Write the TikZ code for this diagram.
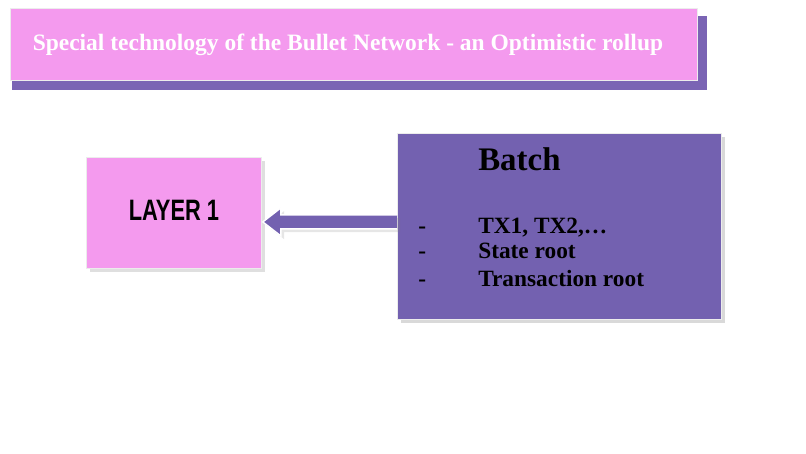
\documentclass[tikz,border=0pt]{standalone}
\usepackage{fontspec}
\setmainfont{Liberation Serif}
\newfontfamily\condsans[FakeStretch=0.74]{Liberation Sans}
\usetikzlibrary{positioning,calc}
\definecolor{pinkbox}{HTML}{F49AEE}
\definecolor{violetbox}{HTML}{7361B0}
\definecolor{shadowbox}{HTML}{7A64B4}
\tikzset{
  box/.style={draw=white!85!gray, line width=0.6pt, inner sep=0pt, anchor=north west},
  blockarrow/.style={fill=violetbox, draw=white, line width=1pt, drop shadow={opacity=0.2}}
}
\usetikzlibrary{shadows}
\begin{document}
\begin{tikzpicture}[x=0.025cm,y=-0.025cm]
        \useasboundingbox (0,0) rectangle (806,453);

        % title bar with its shadow
        \fill[shadowbox] (12,16) rectangle (707,90);
        \node[box, fill=pinkbox, minimum width=687*0.025cm, minimum height=72*0.025cm] (title) at (10,8) {};
        \node[text=white, font=\bfseries\fontsize{16.7}{18}\selectfont] at ($(title.center)+(-6,0)$) {Special technology of the Bullet Network - an Optimistic rollup};

        % boxes
        \node[box, fill=pinkbox, minimum width=175*0.025cm, minimum height=111*0.025cm, drop shadow={opacity=0.25}] (layer) at (86,157) {};
        \node[font=\condsans\bfseries\fontsize{21}{23}\selectfont] at ($(layer.center)+(0,-3)$) {LAYER 1};

        \node[box, fill=violetbox, minimum width=324*0.025cm, minimum height=186*0.025cm, drop shadow={opacity=0.3}] (batch) at (397,133) {};
        \node[font=\bfseries\fontsize{23.4}{25}\selectfont, anchor=base west, inner sep=0pt] at (478,170) {Batch};
        \foreach \y/\txt in {233/{TX1, TX2,\dots}, 258/{State root}, 286/{Transaction root}} {
            \node[font=\bfseries\fontsize{16.6}{18}\selectfont, anchor=base west, inner sep=0pt] at (418,\y) {-};
            \node[font=\bfseries\fontsize{16.6}{18}\selectfont, anchor=base west, inner sep=0pt] at (478,\y) {\txt};
        }

        % arrow from batch to layer 1
        \coordinate (tip) at ($(layer.east)+(1,9)$);
        \coordinate (tail) at (batch.west |- tip);
        \draw[blockarrow] (tail) ++(0,-7) -- ($(tip)+(18,-7)$) -- ($(tip)+(18,-14)$) -- (tip)
            -- ($(tip)+(18,14)$) -- ($(tip)+(18,7)$) -- ($(tail)+(0,7)$);
\end{tikzpicture}
\end{document}
